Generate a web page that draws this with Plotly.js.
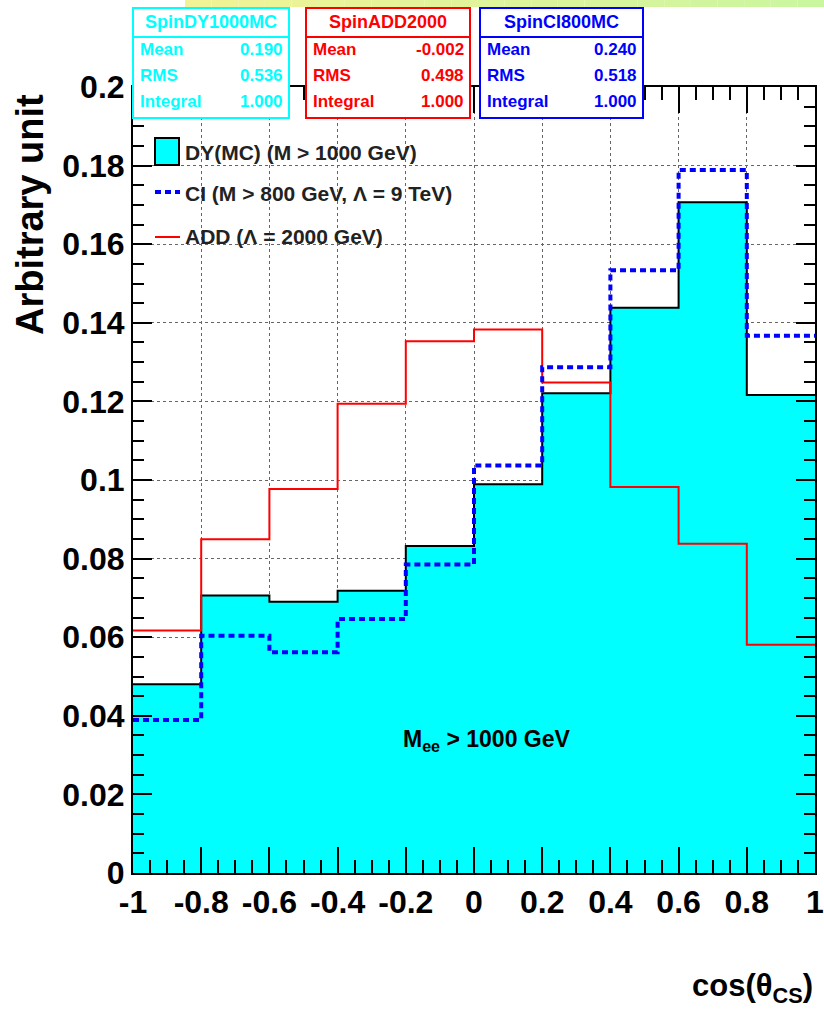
<!DOCTYPE html>
<html><head><meta charset="utf-8">
<script src="https://cdn.plot.ly/plotly-3.0.1.min.js"></script>
<style>body{margin:0;background:#fff}</style>
</head><body><div id="chart" style="width:824px;height:1012px"></div>
<script>
// ---- data ----
const binEdges = [-1, -0.8, -0.6, -0.4, -0.2, 0, 0.2, 0.4, 0.6, 0.8, 1];
const dyValues  = [0.0480, 0.0706, 0.0690, 0.0718, 0.0832, 0.0989, 0.1221, 0.1438, 0.1707, 0.1216];
const ciValues  = [0.0389, 0.0604, 0.0562, 0.0646, 0.0785, 0.1037, 0.1287, 0.1534, 0.1789, 0.1367];
const addValues = [0.0617, 0.0849, 0.0977, 0.1194, 0.1353, 0.1383, 0.1248, 0.0982, 0.0838, 0.0581];

const xTickVals = [-1, -0.8, -0.6, -0.4, -0.2, 0, 0.2, 0.4, 0.6, 0.8, 1];
const xTickText = ["-1", "-0.8", "-0.6", "-0.4", "-0.2", "0", "0.2", "0.4", "0.6", "0.8", "1"];
const yTickVals = [0, 0.02, 0.04, 0.06, 0.08, 0.1, 0.12, 0.14, 0.16, 0.18, 0.2];
const yTickText = ["0", "0.02", "0.04", "0.06", "0.08", "0.1", "0.12", "0.14", "0.16", "0.18", "0.2"];

const legendLabels = ["DY(MC) (M > 1000 GeV)", "CI (M > 800 GeV, \u039B = 9 TeV)", "ADD (\u039B = 2000 GeV)"];
const statNames = ["SpinDY1000MC", "SpinADD2000", "SpinCI800MC"];
const statMean = ["0.190", "-0.002", "0.240"];
const statRMS = ["0.536", "0.498", "0.518"];
const statIntegral = ["1.000", "1.000", "1.000"];
const statRowLabels = ["Mean", "RMS", "Integral"];
const xTitle = "cos(\u03B8<sub>CS</sub>)";
const yTitle = "Arbitrary unit";
const cutLabel = "M<sub>ee</sub> > 1000 GeV";

// ---- helpers ----
const FONT = "Liberation Sans, Arial, Helvetica, sans-serif";
const L = 133, R = 815, T = 87, B = 873;
const px = p => (p - L) / (R - L);
const py = p => (B - p) / (B - T);
const stepY = v => v.concat([v[v.length - 1]]);

const traces = [
  {x: binEdges, y: stepY(dyValues), mode: 'lines', line: {shape: 'hv', color: '#000', width: 2},
   fill: 'tozeroy', fillcolor: '#00FFFF', hoverinfo: 'skip'},
  {x: binEdges, y: stepY(addValues), mode: 'lines', line: {shape: 'hv', color: '#FF0000', width: 2}, hoverinfo: 'skip'},
  {x: binEdges, y: stepY(ciValues), mode: 'lines', line: {shape: 'hv', color: '#0000FF', width: 4, dash: '6px,4px'}, hoverinfo: 'skip'}
];

const shapes = [];
const annotations = [];

// top gradient strip
const nStrip = 24, s0 = 185, s1 = 824;
for (let i = 0; i < nStrip; i++) {
  const t = i / (nStrip - 1);
  const r = Math.round(242 - 40 * t), g = Math.round(242 + 4 * t), b = Math.round(150 + 10 * t);
  shapes.push({type: 'rect', xref: 'paper', yref: 'paper', layer: 'above',
    x0: px(s0 + (s1 - s0) * i / nStrip), x1: px(s0 + (s1 - s0) * (i + 1) / nStrip),
    y0: py(0), y1: py(7), fillcolor: `rgb(${r},${g},${b})`, line: {width: 0}});
}

// stat boxes
const boxX = [[133, 289], [306, 470], [480, 643]];
const boxColors = ['#00FFFF', '#FF0000', '#0000FF'];
const rowY = [50, 76, 101];
for (let i = 0; i < 3; i++) {
  const [a, b] = boxX[i], c = boxColors[i];
  shapes.push({type: 'rect', xref: 'paper', yref: 'paper', layer: 'above',
    x0: px(a), x1: px(b), y0: py(118), y1: py(8), fillcolor: '#fff', line: {color: c, width: 2}});
  shapes.push({type: 'line', xref: 'paper', yref: 'paper', layer: 'above',
    x0: px(a), x1: px(b), y0: py(37), y1: py(37), line: {color: c, width: 2}});
  annotations.push({xref: 'paper', yref: 'paper', x: px((a + b) / 2), y: py(22), text: statNames[i],
    showarrow: false, xanchor: 'center', yanchor: 'middle', font: {family: FONT, size: 18, weight: 'bold', color: c}});
  const vals = [statMean[i], statRMS[i], statIntegral[i]];
  for (let j = 0; j < 3; j++) {
    annotations.push({xref: 'paper', yref: 'paper', x: px(a + 5), y: py(rowY[j]), text: statRowLabels[j],
      showarrow: false, xanchor: 'left', yanchor: 'middle', font: {family: FONT, size: 17, weight: 'bold', color: c}});
    annotations.push({xref: 'paper', yref: 'paper', x: px(b - 4), y: py(rowY[j]), text: vals[j],
      showarrow: false, xanchor: 'right', yanchor: 'middle', font: {family: FONT, size: 17, weight: 'bold', color: c}});
  }
}

// custom legend
shapes.push({type: 'rect', xref: 'paper', yref: 'paper', x0: px(155), x1: px(179), y0: py(165), y1: py(138),
  fillcolor: '#00FFFF', line: {color: '#000', width: 2}, layer: 'above'});
shapes.push({type: 'line', xref: 'paper', yref: 'paper', x0: px(155), x1: px(180), y0: py(192), y1: py(192),
  line: {color: '#0000FF', width: 4, dash: '6px,4px'}, layer: 'above'});
shapes.push({type: 'line', xref: 'paper', yref: 'paper', x0: px(155), x1: px(180), y0: py(237), y1: py(237),
  line: {color: '#FF0000', width: 2}, layer: 'above'});
const legY = [152, 193, 236];
for (let i = 0; i < 3; i++) {
  annotations.push({xref: 'paper', yref: 'paper', x: px(183), y: py(legY[i]), text: legendLabels[i],
    showarrow: false, xanchor: 'left', yanchor: 'middle', font: {family: FONT, size: 21, weight: 'bold', color: '#222'}});
}

// other labels
annotations.push({xref: 'paper', yref: 'paper', x: px(487), y: py(740), text: cutLabel, showarrow: false,
  xanchor: 'center', yanchor: 'middle', font: {family: FONT, size: 23, weight: 'bold', color: '#000'}});
annotations.push({xref: 'paper', yref: 'paper', x: px(815), y: py(988), text: xTitle, showarrow: false,
  xanchor: 'right', yanchor: 'middle', font: {family: FONT, size: 31, weight: 'bold', color: '#000'}});
annotations.push({xref: 'paper', yref: 'paper', x: px(30), y: py(215), text: yTitle, showarrow: false, textangle: -90,
  xanchor: 'center', yanchor: 'middle', font: {family: FONT, size: 38, weight: 'bold', color: '#000'}});

const axisCommon = {
  showline: true, linecolor: '#000', linewidth: 2, mirror: 'allticks',
  ticks: 'inside', tickcolor: '#000', tickwidth: 2,
  showgrid: true, gridcolor: '#666', griddash: 'dot', gridwidth: 1,
  zeroline: false, tickmode: 'array', ticklabeloverflow: 'allow',
  tickfont: {family: FONT, size: 32, weight: 'bold', color: '#000'}
};

const layout = {
  width: 824, height: 1012,
  margin: {l: L, r: 824 - R, t: T, b: 1012 - B, pad: 0},
  paper_bgcolor: '#fff', plot_bgcolor: '#fff',
  showlegend: false,
  font: {family: FONT},
  xaxis: Object.assign({}, axisCommon, {range: [-1, 1], tickvals: xTickVals, ticktext: xTickText, ticklen: 26,
    minor: {ticks: 'inside', dtick: 0.05, tick0: -1, ticklen: 13, tickwidth: 2, tickcolor: '#000', showgrid: false}}),
  yaxis: Object.assign({}, axisCommon, {range: [0, 0.2], tickvals: yTickVals, ticktext: yTickText, ticklen: 19,
    minor: {ticks: 'inside', dtick: 0.005, tick0: 0, ticklen: 11, tickwidth: 2, tickcolor: '#000', showgrid: false}}),
  shapes: shapes,
  annotations: annotations
};

Plotly.newPlot('chart', traces, layout, {staticPlot: true, displayModeBar: false});
</script>
</body></html>
